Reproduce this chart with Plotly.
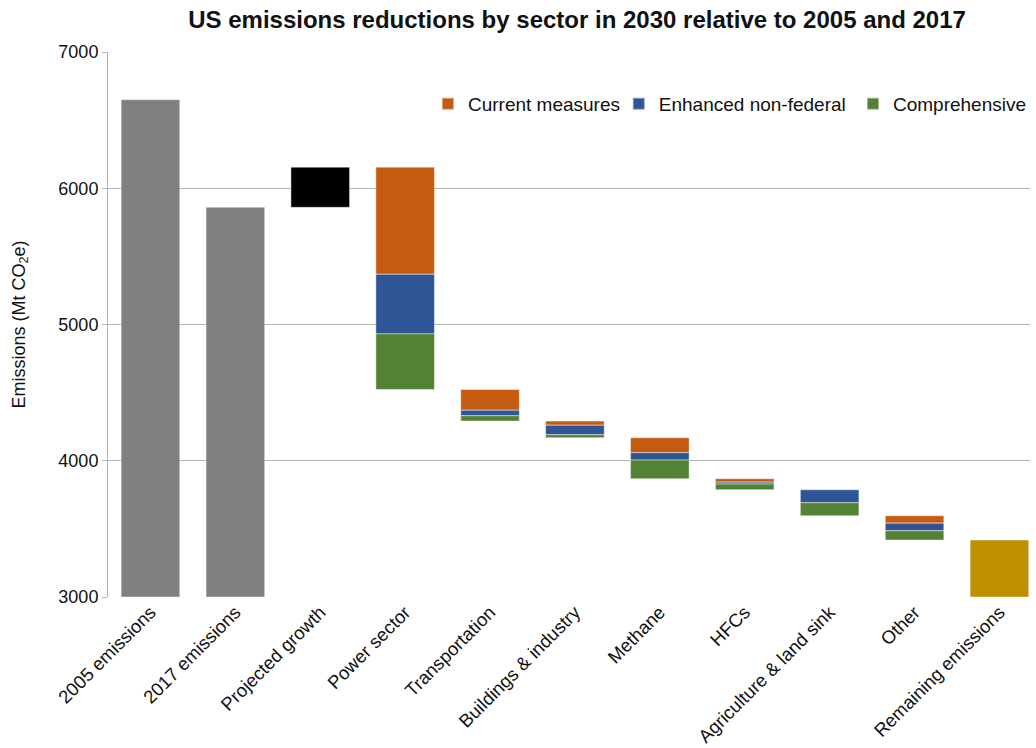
import plotly.graph_objects as go

categories = ["2005 emissions", "2017 emissions", "Projected growth", "Power sector",
              "Transportation", "Buildings & industry", "Methane", "HFCs",
              "Agriculture & land sink", "Other", "Remaining emissions"]
emissions_2005 = 6650
emissions_2017 = 5860
projected_growth = 295
sectors = ["Power sector", "Transportation", "Buildings & industry", "Methane",
           "HFCs", "Agriculture & land sink", "Other"]
current_measures = [786, 152, 30, 110, 25, 0, 54]
enhanced_nonfederal = [438, 41, 70, 54, 14, 95, 56]
comprehensive = [408, 39, 22, 137, 42, 96, 68]
y_ticks = [3000, 4000, 5000, 6000, 7000]

FONT = "Liberation Sans, Arial, sans-serif"
C_CUR = "#C55A11"
C_ENH = "#2F5597"
C_COMP = "#548235"
BW = 0.69

fig = go.Figure()

# Base bars
fig.add_trace(go.Bar(x=[categories[0], categories[1]], y=[emissions_2005 - 3000, emissions_2017 - 3000],
                     base=[3000, 3000], marker_color="#808080", width=BW, showlegend=False))
fig.add_trace(go.Bar(x=[categories[2]], y=[projected_growth], base=[emissions_2017],
                     marker_color="#000000", width=BW, showlegend=False))

level = emissions_2017 + projected_growth
cur_base, enh_base, comp_base = [], [], []
for c, e, p in zip(current_measures, enhanced_nonfederal, comprehensive):
    cur_base.append(level - c)
    level -= c
    enh_base.append(level - e)
    level -= e
    comp_base.append(level - p)
    level -= p
remaining = level

line = dict(color="rgba(255,255,255,0.45)", width=1)
fig.add_trace(go.Bar(x=sectors, y=current_measures, base=cur_base, name="Current measures",
                     marker=dict(color=C_CUR, line=line), width=BW, legend="legend"))
fig.add_trace(go.Bar(x=sectors, y=enhanced_nonfederal, base=enh_base, name="Enhanced non-federal",
                     marker=dict(color=C_ENH, line=line), width=BW, legend="legend2"))
fig.add_trace(go.Bar(x=sectors, y=comprehensive, base=comp_base, name="Comprehensive",
                     marker=dict(color=C_COMP, line=line), width=BW, legend="legend3"))
fig.add_trace(go.Bar(x=[categories[10]], y=[remaining - 3000], base=[3000],
                     marker_color="#BF9000", width=BW, showlegend=False))

legend_common = dict(orientation="h", yanchor="middle", xanchor="left", y=0.905,
                     bgcolor="rgba(0,0,0,0)", font=dict(family=FONT, size=19, color="#111"),
                     itemsizing="constant", borderwidth=0)
fig.update_layout(
    barmode="overlay",
    width=1036, height=748,
    margin=dict(l=108, r=4, t=52, b=151),
    plot_bgcolor="white", paper_bgcolor="white",
    font=dict(family=FONT, color="#111"),
    title=dict(text="<b>US emissions reductions by sector in 2030 relative to 2005 and 2017</b>",
               x=0.557, xanchor="center", y=0.974, yanchor="middle",
               font=dict(family=FONT, size=24, color="#111")),
    legend=dict(x=0.347, **legend_common),
    legend2=dict(x=0.554, **legend_common),
    legend3=dict(x=0.808, **legend_common),
    xaxis=dict(categoryorder="array", categoryarray=categories, range=[-0.5, 10.36],
               tickangle=-45, tickfont=dict(family=FONT, size=18.5, color="#111"),
               showline=False, ticks="", showgrid=False, automargin=False),
    yaxis=dict(range=[3000, 7000], tickvals=y_ticks, showgrid=True, gridcolor="#b3b3b3",
               gridwidth=1, showline=True, linecolor="#b3b3b3", linewidth=1,
               ticks="outside", ticklen=5, tickcolor="#b3b3b3",
               tickfont=dict(family=FONT, size=18, color="#111"),
               title=dict(text="Emissions (Mt CO<sub>2</sub>e)", standoff=28,
                          font=dict(family=FONT, size=18, color="#111")),
               zeroline=False, automargin=False),
)

fig.write_html("out.html")
